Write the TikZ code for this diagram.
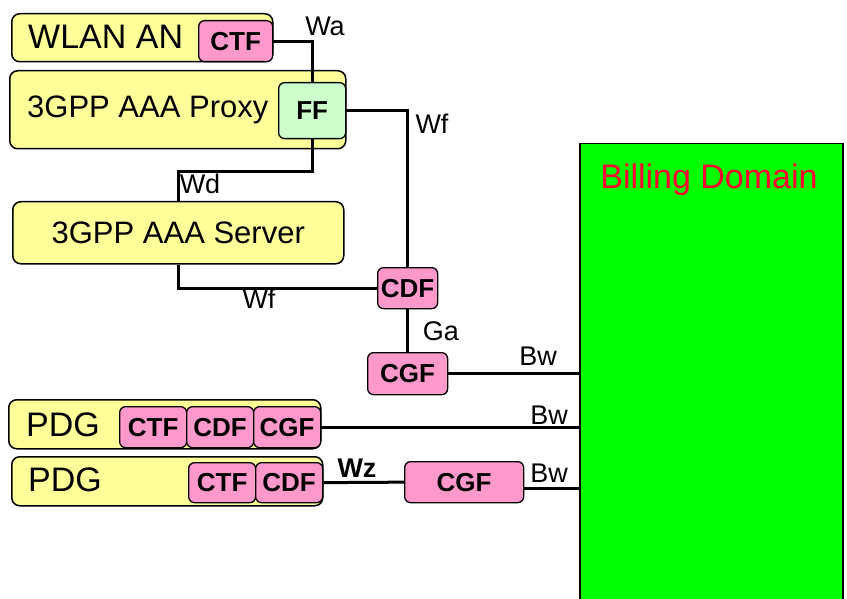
\documentclass[tikz,border=0pt]{standalone}
\usepackage{fontspec}
\setmainfont{Liberation Sans}
\usepackage{xcolor}
\definecolor{boxyellow}{HTML}{FFFF99}
\definecolor{funcpink}{HTML}{FF99CC}
\definecolor{funcmint}{HTML}{CCFFCC}
\definecolor{billgreen}{HTML}{00FF00}
\definecolor{billred}{HTML}{FF0033}

\begin{document}
\begin{tikzpicture}[x=1pt,y=-1pt,
    entity/.style={draw, line width=1.5pt, fill=boxyellow, rounded corners=8pt,
      anchor=north west, inner sep=0pt},
    func/.style={draw, line width=1.3pt, fill=funcpink, rounded corners=6pt,
      anchor=north west, inner sep=0pt, font=\fontsize{26}{30}\selectfont\bfseries},
    bigtext/.style={inner sep=0pt, anchor=west},
    link/.style={line width=3pt},
    iface/.style={inner sep=0pt, font=\fontsize{27}{31}\selectfont}]
  \useasboundingbox (0,0) rectangle (847,599);

  % billing domain
  \node[draw, line width=1.5pt, fill=billgreen, anchor=north west, inner sep=0pt,
    minimum width=263pt, minimum height=462pt] (billing) at (579,143) {};
  \node[inner sep=0pt, text=billred, font=\fontsize{34}{40}\selectfont] (billtxt) at (709,180) {Billing Domain};

  % WLAN side
  \node[entity, minimum width=261pt, minimum height=48pt] (wlan) at (11,13) {};
  \node[bigtext, font=\fontsize{34}{40}\selectfont] (wlantxt) at (28,37) {WLAN AN};
  \node[func, minimum width=74pt, minimum height=41pt] (ctfw) at (198,20) {CTF};

  \node[entity, minimum width=336pt, minimum height=78pt] (proxy) at (9,70) {};
  \node[bigtext, font=\fontsize{31}{37}\selectfont] (proxytxt) at (27,110) {3GPP AAA Proxy};
  \node[func, fill=funcmint, minimum width=67pt, minimum height=56pt] (ff) at (278,82) {FF};

  \node[entity, minimum width=331pt, minimum height=62pt, font=\fontsize{31}{37}\selectfont] (server) at (12,201) {3GPP AAA Server};

  \node[func, minimum width=60pt, minimum height=41pt] (cdf) at (377,267) {CDF};
  \node[func, minimum width=80pt, minimum height=42pt] (cgf) at (367,352) {CGF};

  % PDG with all functions
  \node[entity, minimum width=312pt, minimum height=49pt] (pdgp) at (8,399) {};
  \node[bigtext, font=\fontsize{34}{40}\selectfont] (pdgptxt) at (26,425) {PDG};
  \node[func, minimum width=67pt, minimum height=41pt] (ctfp) at (119,406) {CTF};
  \node[func, minimum width=67pt, minimum height=41pt] (cdfp) at (186,406) {CDF};
  \node[func, minimum width=67pt, minimum height=41pt] (cgfp) at (253,406) {CGF};

  % PDG with separate CGF
  \node[entity, minimum width=311pt, minimum height=49pt] (pdgq) at (11,456) {};
  \node[bigtext, font=\fontsize{34}{40}\selectfont] (pdgqtxt) at (28,480) {PDG};
  \node[func, minimum width=67pt, minimum height=40pt] (ctfq) at (188,462) {CTF};
  \node[func, minimum width=67pt, minimum height=40pt] (cdfq) at (255,462) {CDF};
  \node[func, minimum width=119pt, minimum height=41pt] (cgfq) at (404,461) {CGF};

  % reference points
  \draw[link] (ctfw.east) -| (ff.north);
  \draw[link] (ff.east) -| (cdf.north);
  \draw[link] (ff.south) -- ++(0,32) -| (server.north);
  \draw[link] (server.south) |- (cdf.west);
  \draw[link] (cdf.south) -- (cgf.north);
  \draw[link] (cgf.east) -- (cgf.east -| billing.west);
  \draw[link] (cgfp.east) -- (cgfp.east -| billing.west);
  \draw[link] (cdfq.east) -- (cgfq.west);
  \draw[link] ([yshift=-6pt]cgfq.east) -- ([yshift=-6pt]cgfq.east -| billing.west);

  \node[iface] (wa) at (325,26) {Wa};
  \node[iface] (wfa) at (432,124) {Wf};
  \node[iface] (wd) at (200,184) {Wd};
  \node[iface] (wfb) at (259,299) {Wf};
  \node[iface] (ga) at (441,331) {Ga};
  \node[iface] (bwa) at (538,356) {Bw};
  \node[iface] (bwb) at (549,415) {Bw};
  \node[iface, font=\fontsize{27}{31}\selectfont\bfseries] (wz) at (357,468) {Wz};
  \node[iface] (bwc) at (549,473) {Bw};
\end{tikzpicture}
\end{document}
